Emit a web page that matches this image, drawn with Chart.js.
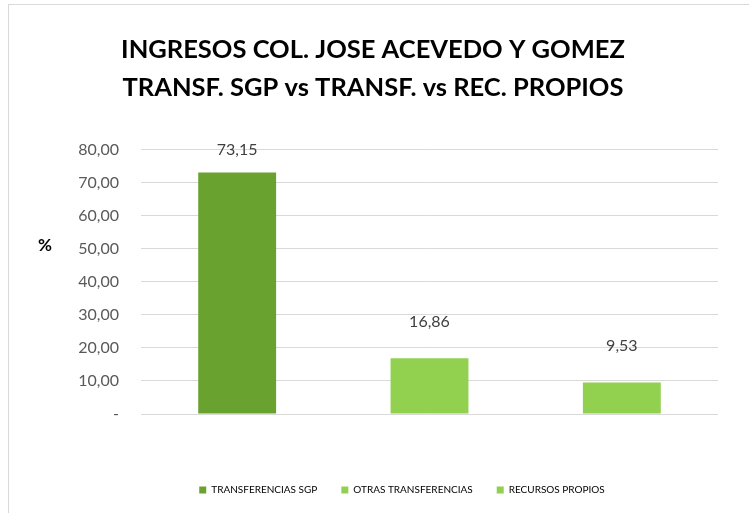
<!DOCTYPE html>
<html>
<head>
<meta charset="utf-8">
<script src="https://cdn.jsdelivr.net/npm/chart.js@4.4.1/dist/chart.umd.min.js"></script>
<style>
  body { margin: 0; background: #ffffff; }
  #wrap { position: relative; width: 749px; height: 513px; overflow: hidden; }
  #frame { position: absolute; left: 8px; top: 4px; width: 800px; height: 600px; border: 1px solid #d9d9d9; box-sizing: border-box; }
  canvas { position: absolute; left: 0; top: 0; }
</style>
</head>
<body>
<div id="wrap">
  <div id="frame"></div>
  <canvas id="chart" width="749" height="513"></canvas>
</div>
<script>
// datos del grafico
const categorias = ["TRANSFERENCIAS SGP", "OTRAS TRANSFERENCIAS", "RECURSOS PROPIOS"];
const porcentajes = [73.15, 16.86, 9.53];
const colores = ["#6aa22f", "#92d050", "#92d050"];
const tituloLineas = ["INGRESOS COL. JOSE ACEVEDO Y GOMEZ", "TRANSF. SGP vs TRANSF. vs REC. PROPIOS"];

const fmt = v => v.toFixed(2).replace(".", ",");

// mueve la leyenda un poco a la derecha, como en el original
const moverLeyenda = {
    id: "moverLeyenda",
    afterLayout(chart) {
        chart.legend.left += 29;
        chart.legend.right += 29;
    }
};

// etiqueta "%" del eje y y valores encima de las barras
const extras = {
    id: "extras",
    afterDatasetsDraw(chart) {
        const ctx = chart.ctx;
        const area = chart.chartArea;
        ctx.save();
        ctx.font = "16px Lato, 'Open Sans', sans-serif";
        ctx.fillStyle = "#404040";
        ctx.textAlign = "center";
        ctx.textBaseline = "middle";
        chart.getDatasetMeta(0).data.forEach((bar, i) => {
            let y = bar.y - 37;
            if (y < area.top) y = area.top;
            ctx.fillText(fmt(porcentajes[i]), bar.x, y);
        });
        ctx.font = "bold 17px Lato, 'Open Sans', sans-serif";
        ctx.fillStyle = "#000000";
        ctx.fillText("%", 45, 246);
        ctx.restore();
    }
};

const ctx = document.getElementById("chart").getContext("2d");
new Chart(ctx, {
    type: "bar",
    data: {
        labels: categorias,
        datasets: [{
            data: porcentajes,
            backgroundColor: colores,
            borderWidth: 0,
            categoryPercentage: 1,
            barPercentage: 0.405
        }]
    },
    options: {
        responsive: false,
        animation: false,
        layout: { padding: { top: 31, right: 31, bottom: 8, left: 28 } },
        plugins: {
            title: {
                display: true,
                text: tituloLineas,
                color: "#000000",
                font: { family: "Lato, 'Open Sans', sans-serif", size: 25.5, weight: "bold", lineHeight: 1.49 },
                padding: { top: 0, bottom: 43 }
            },
            legend: {
                position: "bottom",
                labels: {
                    boxWidth: 7,
                    boxHeight: 7,
                    padding: 24,
                    color: "#595959",
                    font: { family: "Lato, 'Open Sans', sans-serif", size: 10 },
                    generateLabels: () => categorias.map((c, i) => ({
                        text: c,
                        fillStyle: colores[i],
                        strokeStyle: colores[i],
                        lineWidth: 0,
                        index: i
                    }))
                }
            },
            tooltip: { enabled: false }
        },
        scales: {
            x: {
                grid: { display: false },
                border: { display: false },
                ticks: { display: false },
                afterFit: s => { s.height = 47; }
            },
            y: {
                min: 0,
                max: 80,
                ticks: {
                    stepSize: 10,
                    padding: 22,
                    color: "#595959",
                    font: { family: "Lato, 'Open Sans', sans-serif", size: 16 },
                    callback: v => v === 0 ? "-" : fmt(v)
                },
                grid: { color: "#d9d9d9", drawTicks: false },
                border: { display: false },
                afterFit: s => { s.width = 113; }
            }
        }
    },
    plugins: [extras, moverLeyenda]
});
</script>
</body>
</html>
